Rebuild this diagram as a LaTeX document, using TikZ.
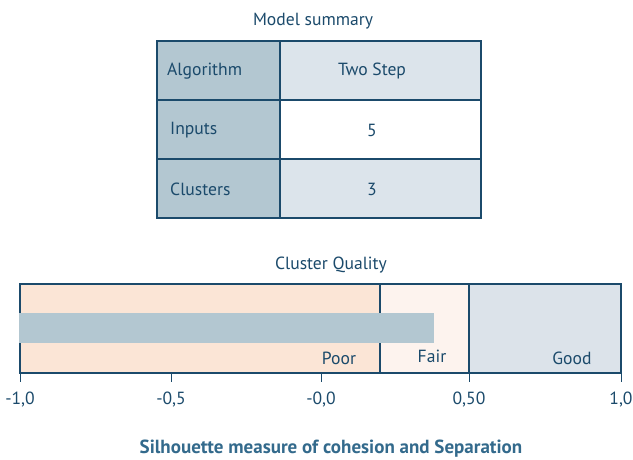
\documentclass[tikz,border=0pt]{standalone}
\usepackage{fontspec}
\setmainfont{PT Sans}
\definecolor{ink}{HTML}{1B4A6B}
\definecolor{ink2}{HTML}{336A8C}
\definecolor{leftcol}{HTML}{B3C7D1}
\definecolor{rightcol}{HTML}{DCE4EB}
\definecolor{poorc}{HTML}{FBE5D6}
\definecolor{fairc}{HTML}{FDF3EE}
\definecolor{goodc}{HTML}{DCE3EA}
\begin{document}
\begin{tikzpicture}[x=1pt,y=-1pt,
  txt/.style={text=ink,font=\fontsize{17.6}{20}\selectfont,inner sep=0pt},
  cell/.style={draw=ink,line width=1.2pt},
  tick/.style={draw=ink,line width=1pt}]
\useasboundingbox (0,0) rectangle (633,459);
% table
\node[txt] (t1) at (313,21) {Model summary};
\fill[leftcol] (157,41) rectangle (280,218);
\fill[rightcol] (280,41) rectangle (481,100);
\fill[white] (280,100) rectangle (481,159);
\fill[rightcol] (280,159) rectangle (481,218);
\draw[cell] (157,41) rectangle (481,218);
\draw[cell] (280,41) -- (280,218);
\draw[cell] (157,100) -- (481,100);
\draw[cell] (157,159) -- (481,159);
\node[txt,anchor=west] (a1) at (167,71) {Algorithm};
\node[txt,anchor=west] (a2) at (170,130) {Inputs};
\node[txt,anchor=west] (a3) at (170,189) {Clusters};
\node[txt] (b1) at (372,71) {Two Step};
\node[txt] (b2) at (372,130) {5};
\node[txt] (b3) at (372,189) {3};
% cluster quality
\node[txt] (t2) at (331,265) {Cluster Quality};
\fill[poorc] (20,284) rectangle (380,373);
\fill[fairc] (380,284) rectangle (469,373);
\fill[goodc] (469,284) rectangle (621,373);
\draw[cell] (20,284) rectangle (621,373);
\draw[cell] (380,284) -- (380,373);
\draw[cell] (469,284) -- (469,373);
\fill[leftcol] (19.4,313) rectangle (434,343);
\node[txt] (p) at (339,358) {Poor};
\node[txt] (f) at (432,356) {Fair};
\node[txt] (g) at (572,358) {Good};
\foreach \x/\l/\n in {20/{-1,0}/k1,171/{-0,5}/k2,321/{-0,0}/k3,469/{0,50}/k4,621/{1,0}/k5}{
  \coordinate (\n) at (\x,373);
  \draw[tick] (\n) -- ++(0,9);
  \node[txt] at (\x,400) {\l};
}
\node[txt,text=ink2,font=\fontsize{19}{22}\selectfont\bfseries] (s) at (331,449) {Silhouette measure of cohesion and Separation};
\end{tikzpicture}
\end{document}
